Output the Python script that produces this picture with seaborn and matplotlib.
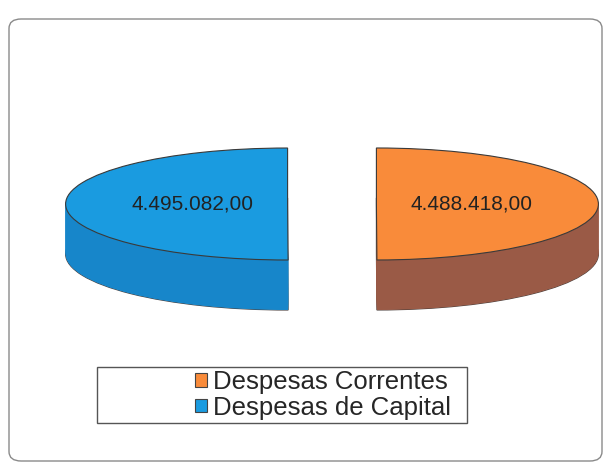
import numpy as np
import pandas as pd
import seaborn as sns
import matplotlib
matplotlib.use("Agg")
import matplotlib.pyplot as plt
from matplotlib.patches import FancyBboxPatch, Rectangle, Patch

# ---- data ----
categories = ["Despesas Correntes", "Despesas de Capital"]
values = [4488418.00, 4495082.00]
top_colors = ["#F98B3A", "#1A9BE0"]
side_colors = ["#9A5A46", "#1786CA"]

def fmt_pt(v):
    return f"{v:,.2f}".replace(",", "X").replace(".", ",").replace("X", ".")

labels_txt = [fmt_pt(v) for v in values]

sns.set_theme(style="white")
plt.rcParams["font.family"] = ["Liberation Sans", "DejaVu Sans"]

W, H = 607, 472
fig = plt.figure(figsize=(W / 100, H / 100), dpi=100)
fig.patch.set_facecolor("white")

# outer rounded frame
frame = FancyBboxPatch((9 / W, 1 - 461 / H), (602 - 9) / W, (461 - 19) / H,
                       boxstyle="round,pad=0,rounding_size=0.02",
                       transform=fig.transFigure, facecolor="none",
                       edgecolor="#8a8a8a", linewidth=1.0, zorder=-5)
fig.patches.append(frame)

ax = fig.add_axes([0, 0, 1, 1])
ax.set_facecolor("none")

# geometry (pixel-based scaling)
cx_px, cy_px = 332, 204
rx, ry = 222.0, 56.0
thick = 50.0 / ry
nlayers = 60
explode = [0.2, 0.2]

for k in range(nlayers, 0, -1):
    dy = thick * k / nlayers
    ax.pie(values, colors=side_colors, startangle=90, counterclock=False,
           explode=explode, center=(0, -dy), radius=1.0,
           wedgeprops=dict(linewidth=0))

# bottom outline of side
ax.pie(values, colors=["none", "none"], startangle=90, counterclock=False,
       explode=explode, center=(0, -thick), radius=1.0,
       wedgeprops=dict(linewidth=0.8, edgecolor="#4a3f3c", zorder=0))

it = iter(labels_txt)
wedges, texts, autotexts = ax.pie(
    values, colors=top_colors, startangle=90, counterclock=False,
    explode=explode, center=(0, 0), radius=1.0,
    autopct=lambda p: next(it), pctdistance=0.43,
    wedgeprops=dict(linewidth=0.8, edgecolor="#3a3a3a"),
    textprops=dict(fontsize=15, color="#222222"))
for t in autotexts:
    t.set_ha("center")
    t.set_va("center")

ax.set_aspect("auto")
ax.set_xlim(-cx_px / rx, (W - cx_px) / rx)
ax.set_ylim(-(H - cy_px) / ry, cy_px / ry)
ax.axis("off")

# legend box
box = Rectangle((97 / W, 1 - 423 / H), (467 - 97) / W, (423 - 367) / H,
                transform=fig.transFigure, facecolor="none",
                edgecolor="#555555", linewidth=1.0, zorder=-5)
fig.patches.append(box)

handles = [Patch(facecolor=c, edgecolor="#444444", linewidth=0.8) for c in top_colors]
leg = fig.legend(handles, categories, loc="center",
                 bbox_to_anchor=(323 / W, 1 - 395 / H), frameon=False,
                 fontsize=18.5, handlelength=0.45, handleheight=0.45,
                 handletextpad=0.25, labelspacing=0.05, borderpad=0)

fig.savefig("out.png", dpi=100, facecolor="white")
